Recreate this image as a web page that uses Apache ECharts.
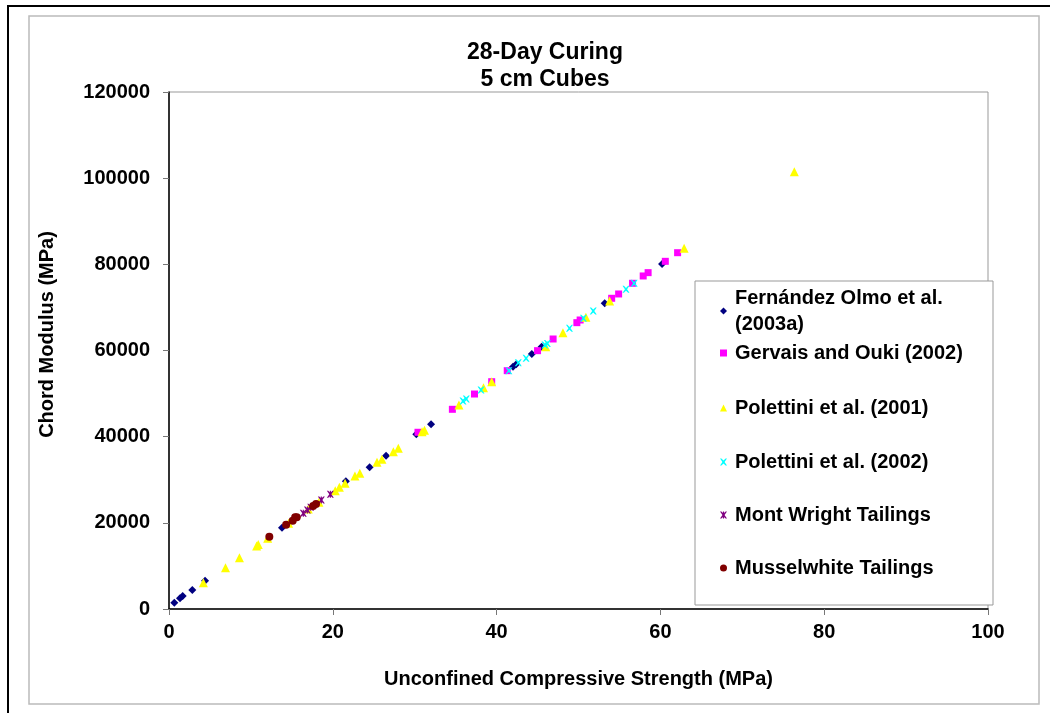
<!DOCTYPE html>
<html>
<head>
<meta charset="utf-8">
<script src="https://cdn.jsdelivr.net/npm/echarts@6/dist/echarts.min.js"></script>
<style>
  html, body { margin: 0; padding: 0; background: #fff; }
  #chart { width: 1050px; height: 713px; }
</style>
</head>
<body>
<div id="chart"></div>
<script>
// values: [UCS (MPa), chord modulus (MPa)]
var fernandezOlmo = [[0.65, 1460], [1.34, 2480], [1.67, 3020], [2.85, 4410], [4.4, 6570], [13.8, 18870],
  [21.6, 29640], [24.5, 32890], [26.5, 35590], [30.2, 40550], [32.0, 42870], [42.0, 56240], [42.4, 56800],
  [44.3, 59190], [45.5, 60890], [53.2, 70960], [60.2, 80080]];
var gervaisOuki = [[30.4, 41020], [34.6, 46350], [37.3, 49900], [39.4, 52760], [41.3, 55320], [45.0, 59960],
  [46.9, 62670], [49.8, 66460], [50.2, 67080], [54.05, 72120], [54.9, 73120], [56.6, 75600], [57.9, 77300],
  [58.5, 78070], [60.6, 80700], [62.1, 82700]];
var polettini2001 = [[4.2, 6100], [6.9, 9590], [8.6, 11900], [10.7, 14620], [10.9, 15000], [12.05, 16400],
  [14.6, 19900], [17.0, 23200], [18.3, 24800], [20.3, 27460], [20.8, 28250], [21.5, 29170], [22.7, 30870],
  [23.3, 31500], [25.4, 34050], [26.0, 34750], [27.4, 36510], [28.0, 37300], [30.9, 41160], [31.2, 41500],
  [35.4, 47350], [38.4, 51370], [39.4, 52760], [46.0, 60890], [48.1, 64140], [50.9, 67710], [53.8, 71500],
  [62.9, 83730], [76.35, 101500]];
var polettini2002 = [[35.9, 48280], [36.3, 48750], [38.1, 50840], [41.5, 55320], [42.65, 57170], [43.6, 58190],
  [45.9, 61280], [46.2, 61600], [48.9, 65150], [50.6, 67480], [51.8, 69170], [55.8, 74210], [56.8, 75600]];
var montWright = [[16.4, 22210], [16.9, 22980], [17.3, 23600], [18.6, 25300], [19.7, 26620]];
var musselwhite = [[12.25, 16780], [14.3, 19570], [15.1, 20500], [15.4, 21290], [15.6, 21290], [17.6, 23900],
  [17.95, 24370]];

var seriesNames = ['Fernández Olmo et al.\n(2003a)', 'Gervais and Ouki (2002)', 'Polettini et al. (2001)',
  'Polettini et al. (2002)', 'Mont Wright Tailings', 'Musselwhite Tailings'];

var FONT = 'Liberation Sans, Arial, sans-serif';
var CROSS = 'path://M0,0 L2,0 L5,3 L8,0 L10,0 L6.5,5 L10,10 L8,10 L5,7 L2,10 L0,10 L3.5,5 Z';
var STAR = 'path://M0,0 L2,0 L5,3 L8,0 L10,0 L6.5,5 L10,10 L8,10 L5,7 L2,10 L0,10 L3.5,5 Z M4.2,0 L5.8,0 L5.8,10 L4.2,10 Z';

var chart = echarts.init(document.getElementById('chart'));

var legendTops = [285, 340, 395, 449, 502, 555];
var legends = seriesNames.map(function (n, i) {
  return {
    data: [n],
    left: 720,
    top: legendTops[i],
    orient: 'vertical',
    padding: 0,
    itemWidth: 7,
    itemHeight: 7,
    itemGap: 0,
    z: 20,
    selectedMode: false,
    textStyle: { fontFamily: FONT, fontSize: 20, fontWeight: 'bold', color: '#000', lineHeight: 26, padding: [0, 0, 0, 3] }
  };
});

function sc(name, data, symbol, size, color) {
  return {
    name: name,
    type: 'scatter',
    data: data,
    symbol: symbol,
    symbolSize: size,
    itemStyle: { color: color, opacity: 1 },
    emphasis: { disabled: true }
  };
}

var option = {
  backgroundColor: '#fff',
  animation: false,
  title: {
    text: '28-Day Curing\n5 cm Cubes',
    left: 540,
    top: 34,
    textAlign: 'center',
    textStyle: { fontFamily: FONT, fontSize: 23, fontWeight: 'bold', color: '#000', lineHeight: 27 }
  },
  graphic: [
    { type: 'rect', shape: { x: 29, y: 16, width: 1010, height: 688 }, style: { fill: 'none', stroke: '#bbb', lineWidth: 1.5 }, z: -1 },
    { type: 'line', shape: { x1: 7, y1: 6, x2: 1050, y2: 6 }, style: { stroke: '#000', lineWidth: 2 } },
    { type: 'line', shape: { x1: 8, y1: 5, x2: 8, y2: 713 }, style: { stroke: '#000', lineWidth: 2 } },
    { type: 'rect', shape: { x: 695, y: 281, width: 298, height: 324 }, style: { fill: '#fff', stroke: '#999', lineWidth: 1 }, z: 3 }
  ],
  legend: legends,
  grid: {
    left: 169, right: 62, top: 92, bottom: 104,
    show: true, borderColor: '#999', borderWidth: 1, backgroundColor: 'transparent'
  },
  xAxis: {
    type: 'value',
    min: 0, max: 100, interval: 20,
    name: 'Unconfined Compressive Strength (MPa)',
    nameLocation: 'middle',
    nameGap: 60,
    nameTextStyle: { fontFamily: FONT, fontSize: 20, fontWeight: 'bold', color: '#000' },
    axisLine: { show: true, lineStyle: { color: '#000', width: 1.5 } },
    axisTick: { show: true, inside: false, length: 6, lineStyle: { color: '#777' } },
    axisLabel: { margin: 13, fontFamily: FONT, fontSize: 20, fontWeight: 'bold', color: '#000' },
    splitLine: { show: false }
  },
  yAxis: {
    type: 'value',
    min: 0, max: 120000, interval: 20000,
    name: 'Chord Modulus (MPa)',
    nameLocation: 'middle',
    nameGap: 112,
    nameTextStyle: { fontFamily: FONT, fontSize: 20, fontWeight: 'bold', color: '#000', padding: [0, 0, 0, 32] },
    axisLine: { show: true, lineStyle: { color: '#000', width: 1.5 } },
    axisTick: { show: true, inside: false, length: 6, lineStyle: { color: '#777' } },
    axisLabel: {
      margin: 19, fontFamily: FONT, fontSize: 20, fontWeight: 'bold', color: '#000',
      formatter: function (v) { return String(v); }
    },
    splitLine: { show: false }
  },
  series: [
    sc(seriesNames[0], fernandezOlmo, 'diamond', 8, '#000080'),
    sc(seriesNames[1], gervaisOuki, 'rect', 7, '#FF00FF'),
    sc(seriesNames[2], polettini2001, 'triangle', 9, '#FFFF00'),
    sc(seriesNames[3], polettini2002, CROSS, 7, '#00FFFF'),
    sc(seriesNames[4], montWright, STAR, 7, '#800080'),
    sc(seriesNames[5], musselwhite, 'circle', 8, '#800000')
  ]
};

chart.setOption(option);
</script>
</body>
</html>
